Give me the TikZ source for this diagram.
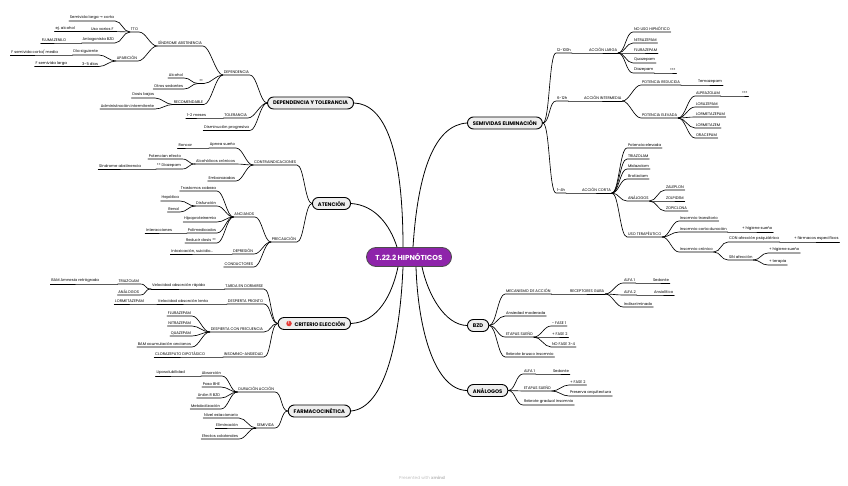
\documentclass[tikz,border=0pt]{standalone}
\usepackage{fontspec}
\setmainfont{Poppins}
\newfontfamily\symfont{DejaVu Sans}
\usetikzlibrary{positioning,shapes.geometric}
\definecolor{rootpurple}{HTML}{8E24AA}
\definecolor{maingrey}{HTML}{EEEEEE}
\definecolor{warnred}{HTML}{E53935}
\tikzset{
    lab/.style={font=\fontsize{3.8}{4.2}\selectfont, inner xsep=0.8pt, inner ysep=1.1pt, text=black},
    labl/.style={lab, anchor=south east},
    labr/.style={lab, anchor=south west},
    mainbox/.style={draw=black, line width=0.9pt, fill=maingrey, rounded corners=6pt, minimum height=12pt, inner xsep=5.5pt, inner ysep=1pt, font=\fontsize{5.2}{6}\selectfont\bfseries},
    link/.style={draw=black, line width=0.65pt, line cap=round},
    biglink/.style={draw=black, line width=0.8pt}
}
\begin{document}
\begin{tikzpicture}[x=1pt,y=-1pt]
\useasboundingbox (0,0) rectangle (848,486);

% Centre
\node[draw=black!70, line width=0.8pt, fill=rootpurple, rounded corners=9.5pt, minimum height=19pt, inner xsep=9pt, text=white, font=\fontsize{7.2}{8}\selectfont\bfseries] (root) at (409,257) {T.22.2 HIPNÓTICOS};

% Main branches
\node[mainbox, anchor=east] (dep) at (354,103) {DEPENDENCIA Y TOLERANCIA};
\node[mainbox, anchor=east] (ate) at (351,203.5) {ATENCIÓN};
\node[mainbox, anchor=east] (cri) at (351,323.5) {\hspace*{11pt}CRITERIO ELECCIÓN};
\node[mainbox, anchor=east] (far) at (351,411) {FARMACOCINÉTICA};
\node[mainbox, anchor=west] (sem) at (467,123) {SEMIVIDAS ELIMINACIÓN};
\node[mainbox, anchor=west] (bzd) at (467,325.5) {BZD};
\node[mainbox, anchor=west] (ana) at (467,390.5) {ANÁLOGOS};

\node[circle, fill=warnred, inner sep=0pt, minimum size=5.5pt, text=white, font=\fontsize{4}{4}\selectfont\bfseries] (warn) at (289,323.5) {!};

\draw[biglink] (dep.east) .. controls (385,104) and (403,150) .. ([xshift=-6pt]root.north);
\draw[biglink] (ate.east) .. controls (375,205) and (390,225) .. ([xshift=-12pt]root.north);
\draw[biglink] (sem.west) .. controls (435,125) and (418,170) .. ([xshift=4pt]root.north);
\draw[biglink] (cri.east) .. controls (378,322) and (392,295) .. ([xshift=-11pt]root.south);
\draw[biglink] (far.east) .. controls (385,408) and (400,340) .. ([xshift=-6pt]root.south);
\draw[biglink] (bzd.west) .. controls (445,325) and (428,295) .. ([xshift=13pt]root.south);
\draw[biglink] (ana.west) .. controls (435,390) and (418,330) .. ([xshift=7pt]root.south);

% Left side labels, given by right end of text
\foreach \name/\x/\y/\txt in {
    depa/250/75/DEPENDENCIA, sind/203/46/SÍNDROME ABSTINENCIA, tto/139/32/TTO,
    semi/115/21/{Semivida larga {\symfont→} corta}, uso/114.5/31.5/Uso varios F, ejal/76/31.5/ej. alcohol,
    anta/115/43/Antagonista BZD, flum/67/43/FLUMAZENILO, apar/138/61/APARICIÓN,
    dias/99/55/Día siguiente, fcor/59/55/{F semivida corta/ media},
    tres/99/66.5/3-5 días, flar/68/66.5/F semivida larga,
    inf/204/83.5/**, alco/184/78/Alcohol, otro/184/89/Otros sedantes,
    reco/204/104.5/RECOMENDABLE, dosi/155/98/Dosis bajas, admi/155/109/Administración intermitente,
    tole/248/118/TOLERANCIA, mese/207/118/1-2 meses, dism/250/130.5/Disminución progresiva,
    cont/297/165/CONTRAINDICACIONES, apne/236/148/Apnea sueño, ronc/193/148/Roncar,
    alcr/236/164/Alcohólicos crónicos, pote/182/159/Potencian efecto, diaz/182/169/** Diazepam,
    sabs/142/169/Síndrome abstinencia, emba/236/181/Embarazadas,
    prec/297/242/PRECAUCIÓN, anci/255/217/ANCIANOS, tras/217/191/Trastornos cabeza,
    disf/217/206/Disfunción, hepa/180/201/Hepática, rena/180/212/Renal,
    hipo/217/222/Hipoproteinemia, poli/217/233/Polimedicados, inte/173/233/Interacciones,
    redu/217/243/Reducir dosis **, depr/254/254/DEPRESIÓN, into/214/254/{Intoxicación, suicidio...},
    cond/254/267/CONDUCTORES,
    tard/264/289/TARDA EN DORMIRSE, vrap/206/289/Velocidad absorción rápida,
    tria/140/284/TRIAZOLAM, bama/100/284/BAM  Amnesia retrógrada, anlg/140/295/ANÁLOGOS,
    desp/264/304/DESPIERTA PRONTO, vlen/209/304/Velocidad absorción lenta, lorm/145/304/LORMETAZEPAM,
    dfre/264/332/DESPIERTA CON FRECUENCIA, flur/192/316/FLURAZEPAM, nitr/192/326/NITRAZEPAM,
    quaz/192/336/QUAZEPAM, bamc/192/347/BAM  acumulación ancianos,
    inso/264/357/INSOMNIO-ANSIEDAD, clor/206/357/CLORAZEPATO DIPOTÁSICO,
    dura/275/392/DURACIÓN ACCIÓN, abso/222/376/Absorción, lipo/186/376/Liposolubilidad,
    paso/221/387/Paso BHE, unio/221/398/Unión R BZD, meta/221/409/Metabolización,
    smvd/275/428/SEMIVIDA, nive/239/418/Nivel estacionario, elim/239/428/Eliminación, efec/239/439/Efectos colaterales} {
    \node[labl] (\name) at (\x,\y) {\txt};
}

% Right side labels, given by left end of text
\foreach \name/\x/\y/\txt in {
    h12/556/53/12-100h, alar/588/53/ACCIÓN LARGA, nouso/633/32/NO USO HIPNÓTICO, rnit/633/43/NITRAZEPAM,
    rflu/633/53/FLURAZEPAM, rqua/633/63/Quazepam, rdia/633/73/Diazepam, rdst/669/73/***,
    h6/556/101/6-12h, aint/583/101/ACCIÓN INTERMEDIA, pred/641/85/POTENCIA REDUCIDA, tema/697/85/Temazepam,
    pele/641/118/POTENCIA ELEVADA, alpr/695/96/ALPRAZOLAM, alst/741/96/***, lora/695/107/LORAZEPAM,
    lrmz/695/117/LORMETAZEPAM, lrmt/695/128/LORMETAZEM, orac/695/138/ORACEPAM,
    h1/556/193/1-4h, acor/581/193/ACCIÓN CORTA, peel/627/148/Potencia elevada, rtri/627/159/TRIAZOLAM,
    mida/627/169/Midazolam, brot/627/179/Brotizolam, rana/627/201/ANÁLOGOS,
    zale/665/190/ZALEPLON, zolp/665/201/ZOLPIDEM, zopi/665/211/ZOPICLONA,
    uter/627/237/USO TERAPÉUTICO, itra/679/221/Insomnio transitorio, icor/679/232/Insomnio corta duración,
    ihig/741/232/+ higiene sueño, icro/679/252/Insomnio crónico, cona/728/242/CON afección psiquiátrica,
    farm/793/242/+ fármacos específicos, sina/728/260/SIN afección, shig/768/253/+ higiene sueño, ster/768/265/+ terapia,
    meca/505/294/MECANISMO DE ACCIÓN, rece/569/294/RECEPTORES GABA, alf1/623/283/ALFA 1, sed1/652/283/Sedante,
    alf2/623/295/ALFA 2, ansi/653/295/Ansiolítico, indi/623/307/Indiscriminado, amod/505/316/Ansiedad moderada,
    etap/505/337/ETAPAS SUEÑO, fas1/551/326/- FASE 1, fas2/551/337/+ FASE 2, fas3/551/347/NO FASE 3-4,
    rebr/505/357/Rebrote brusco insomnio,
    nalf/523/374/ALFA 1, nsed/552/374/Sedante, neta/523/391/ETAPAS SUEÑO, nfas/569/385/+ FASE 2,
    npre/569/396/Preserva arquitectura, nreb/523/405/Rebrote gradual insomnio} {
    \node[labr] (\name) at (\x,\y) {\txt};
}

% From the main branches
\foreach \a/\b in {
    dep/depa, dep/tole, dep/dism, ate/cont, ate/prec, cri/tard, cri/desp, cri/dfre, cri/inso, far/dura, far/smvd} {
    \draw[link] (\a.west) to[out=180,in=0,distance=7pt] (\b.south east) -- (\b.south west);
}
\foreach \a/\b in {
    sem/h12, sem/h6, sem/h1, bzd/meca, bzd/amod, bzd/etap, bzd/rebr, ana/nalf, ana/neta, ana/nreb} {
    \draw[link] (\a.east) to[out=0,in=180,distance=7pt] (\b.south west) -- (\b.south east);
}

% Curved connectors, left
\foreach \a/\b in {
    depa/sind, sind/tto, tto/semi, tto/uso, tto/anta, sind/apar, apar/dias, apar/tres,
    depa/inf, inf/alco, inf/otro, depa/reco, reco/dosi, reco/admi,
    cont/apne, cont/alcr, alcr/pote, alcr/diaz, cont/emba, prec/anci,
    anci/tras, anci/disf, disf/hepa, disf/rena, anci/hipo, anci/poli, anci/redu, prec/depr, prec/cond,
    vrap/tria, vrap/anlg, dfre/flur, dfre/nitr, dfre/quaz, dfre/bamc,
    dura/abso, dura/paso, dura/unio, dura/meta, smvd/nive, smvd/elim, smvd/efec} {
    \draw[link] (\a.south west) to[out=180,in=0,distance=7pt] (\b.south east) -- (\b.south west);
}

% Straight chains, left
\foreach \a/\b in {
    uso/ejal, anta/flum, dias/fcor, tres/flar, apne/ronc, diaz/sabs, poli/inte, depr/into, tole/mese,
    tard/vrap, tria/bama, desp/vlen, vlen/lorm, inso/clor, abso/lipo} {
    \draw[link] (\a.south west) -- (\b.south east) -- (\b.south west);
}

% Curved connectors, right
\foreach \a/\b in {
    alar/nouso, alar/rnit, alar/rflu, alar/rqua, alar/rdia, aint/pred, aint/pele,
    pele/alpr, pele/lora, pele/lrmz, pele/lrmt, pele/orac, acor/peel, acor/rtri, acor/mida,
    acor/brot, acor/rana, rana/zale, rana/zolp, rana/zopi, acor/uter, uter/itra, uter/icor, uter/icro,
    icro/cona, icro/sina, sina/shig, sina/ster, rece/alf1, rece/alf2, rece/indi,
    etap/fas1, etap/fas2, etap/fas3, neta/nfas, neta/npre} {
    \draw[link] (\a.south east) to[out=0,in=180,distance=7pt] (\b.south west) -- (\b.south east);
}

% Straight chains, right
\foreach \a/\b in {
    h12/alar, rdia/rdst, h6/aint, pred/tema, alpr/alst, h1/acor, icor/ihig, cona/farm, meca/rece,
    alf1/sed1, alf2/ansi, nalf/nsed} {
    \draw[link] (\a.south east) -- (\b.south west) -- (\b.south east);
}

% Footer
\node[font=\fontsize{4.2}{5}\selectfont, text=black!25] (foot) at (422,478) {Presented with \textbf{xmind}};

\end{tikzpicture}
\end{document}
